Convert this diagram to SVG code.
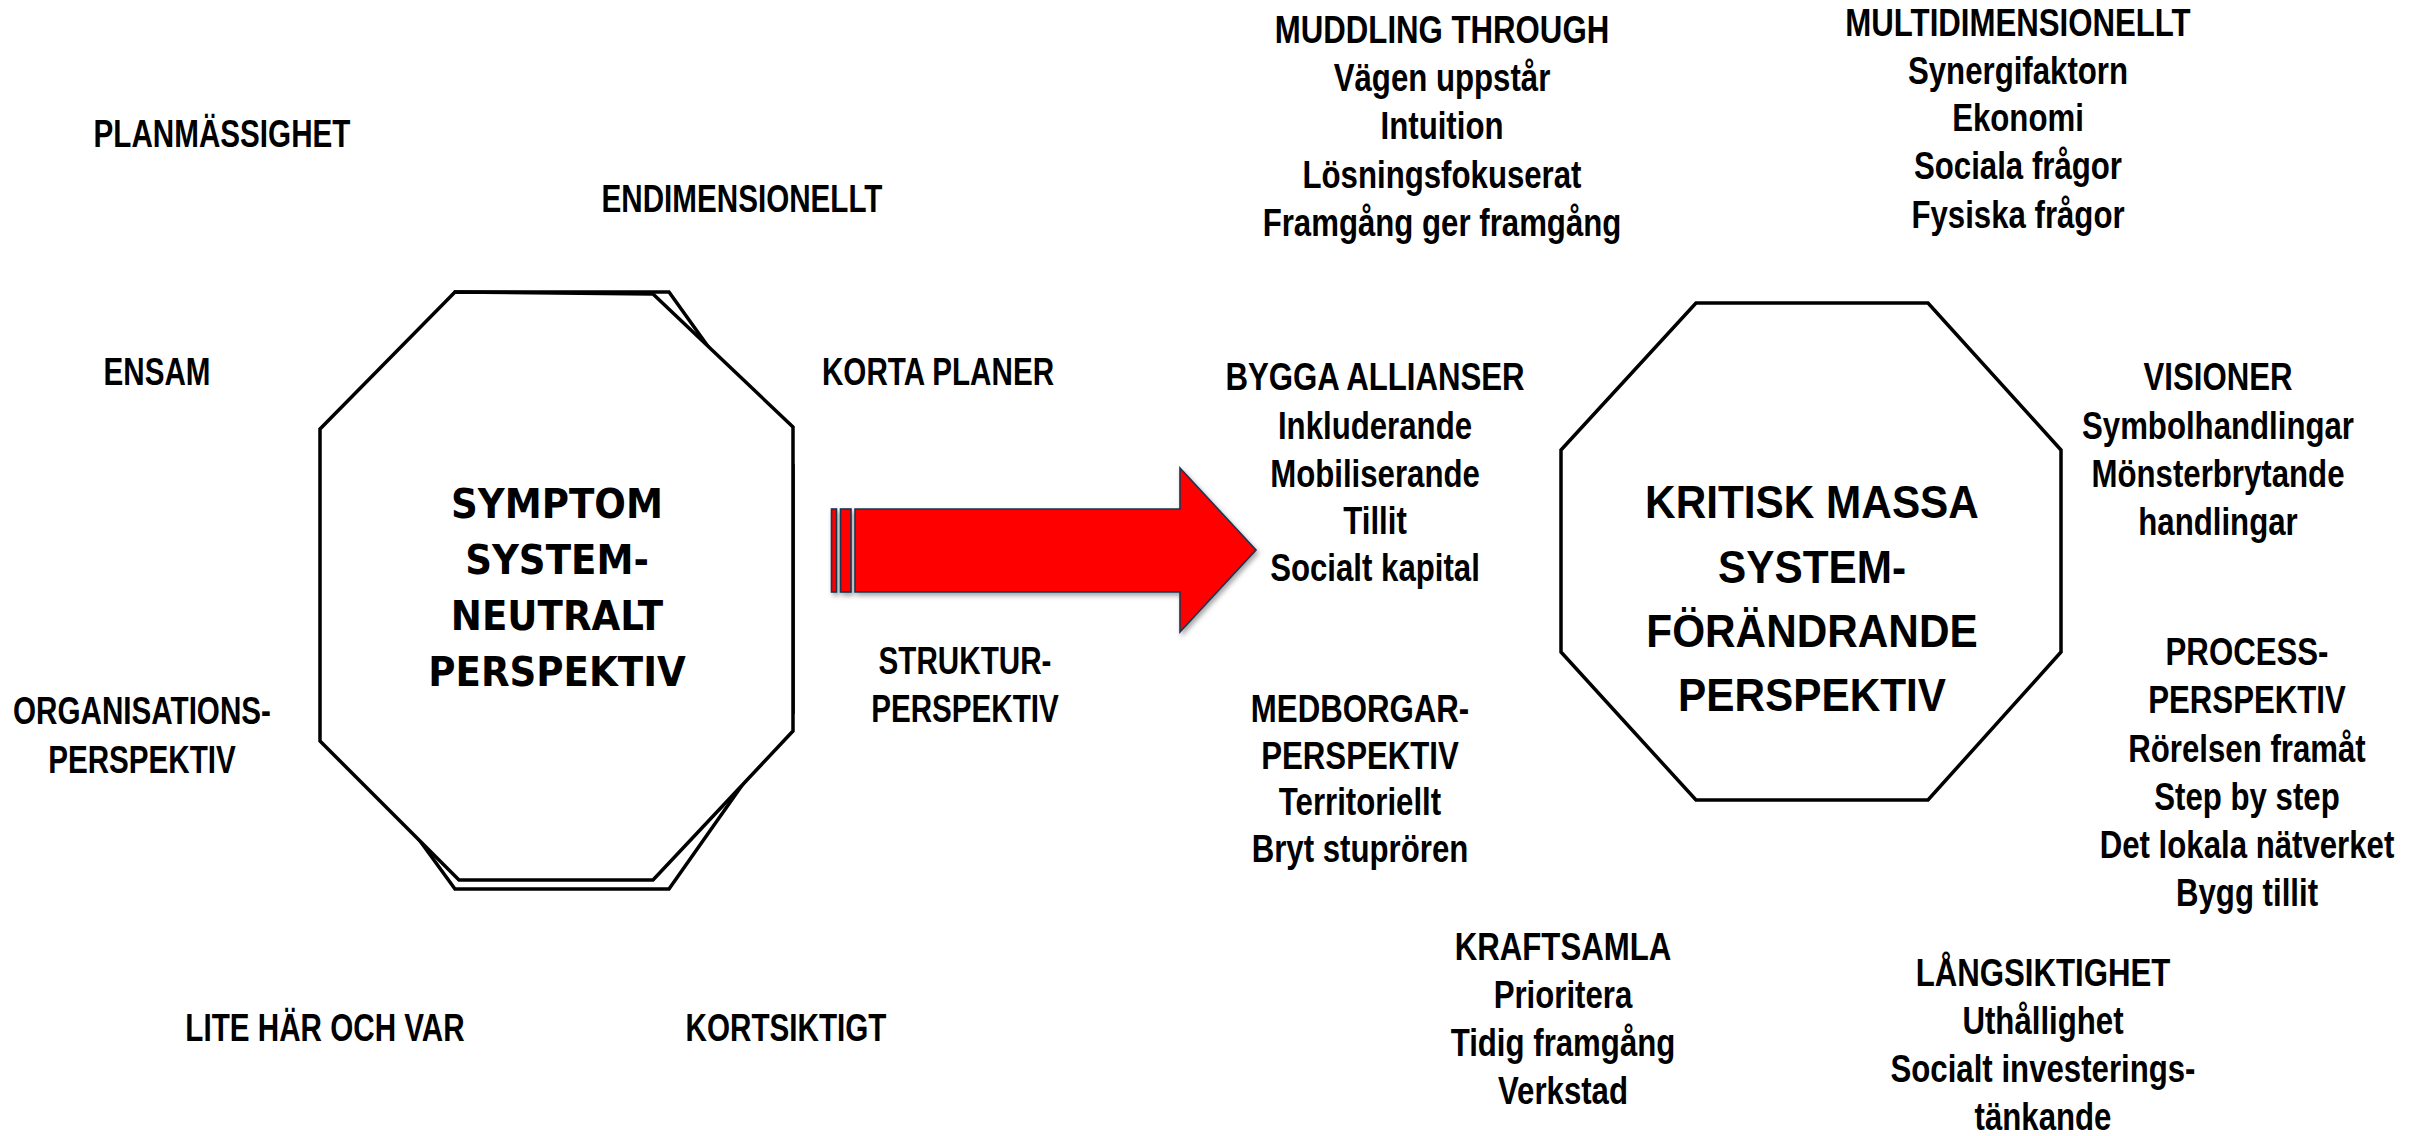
<svg xmlns="http://www.w3.org/2000/svg" width="2412" height="1136" viewBox="0 0 2412 1136">
<style>
.bg{fill:#fff}
.oct{fill:#fff;stroke:#000;stroke-width:3.5;stroke-linejoin:miter}
.t{font-family:"Liberation Sans",Arial,sans-serif;font-weight:bold;font-size:39px;fill:#000;text-anchor:middle}
.tc{font-family:"DejaVu Sans",Verdana,sans-serif;font-weight:bold;font-size:40px;fill:#000;text-anchor:middle}
.tk{font-family:"Liberation Sans",Arial,sans-serif;font-weight:bold;font-size:46px;fill:#000;text-anchor:middle}
.arr{fill:#ff0000;stroke:#1c3452;stroke-width:1.6;stroke-linejoin:miter}
</style>
<defs>
<filter id="sh" x="-10%" y="-10%" width="130%" height="140%">
<feDropShadow dx="2" dy="3" stdDeviation="2.5" flood-color="#000" flood-opacity="0.35"/>
</filter>
</defs>
<rect class="bg" x="0" y="0" width="2412" height="1136"/>

<g id="node-symptom">
<polygon class="oct" points="455,292 669,292 793,465 793,713 669,889 455,889 327,713 327,465"/>
<polygon class="oct" points="455,292 653,294 793,427 793,731 653,880 459,880 320,741 320,429"/>
<text class="tc" transform="translate(557 0) scale(0.93 1)"><tspan x="0" y="518">SYMPTOM</tspan><tspan x="0" y="574">SYSTEM-</tspan><tspan x="0" y="630">NEUTRALT</tspan><tspan x="0" y="686">PERSPEKTIV</tspan></text>
</g>

<g id="node-kritisk">
<polygon class="oct" points="1696,303 1928,303 2061,450 2061,652 1928,800 1696,800 1561,652 1561,450"/>
<text class="tk" transform="translate(1812 0) scale(0.92 1)"><tspan x="0" y="518">KRITISK MASSA</tspan><tspan x="0" y="583">SYSTEM-</tspan><tspan x="0" y="647">FÖRÄNDRANDE</tspan><tspan x="0" y="711">PERSPEKTIV</tspan></text>
</g>

<g id="connectors">
<g id="arrow" filter="url(#sh)">
<rect class="arr" x="831.5" y="509" width="5" height="83"/>
<rect class="arr" x="840.5" y="509" width="10.5" height="83"/>
<polygon class="arr" points="855,509 1180,509 1180,468 1256,550 1180,632 1180,592 855,592"/>
</g>
</g>

<g id="label-planmassighet"><text class="t" transform="translate(222 0) scale(0.76 1)"><tspan x="0" y="147">PLANMÄSSIGHET</tspan></text></g>
<g id="label-endimensionellt"><text class="t" transform="translate(742 0) scale(0.76 1)"><tspan x="0" y="212">ENDIMENSIONELLT</tspan></text></g>
<g id="label-ensam"><text class="t" transform="translate(157 0) scale(0.76 1)"><tspan x="0" y="385">ENSAM</tspan></text></g>
<g id="label-korta"><text class="t" transform="translate(938 0) scale(0.76 1)"><tspan x="0" y="385">KORTA PLANER</tspan></text></g>
<g id="label-organisations"><text class="t" transform="translate(142 0) scale(0.76 1)"><tspan x="0" y="724">ORGANISATIONS-</tspan><tspan x="0" y="773">PERSPEKTIV</tspan></text></g>
<g id="label-struktur"><text class="t" transform="translate(965 0) scale(0.76 1)"><tspan x="0" y="674">STRUKTUR-</tspan><tspan x="0" y="722">PERSPEKTIV</tspan></text></g>
<g id="label-lite"><text class="t" transform="translate(325 0) scale(0.76 1)"><tspan x="0" y="1041">LITE HÄR OCH VAR</tspan></text></g>
<g id="label-kortsiktigt"><text class="t" transform="translate(786 0) scale(0.76 1)"><tspan x="0" y="1041">KORTSIKTIGT</tspan></text></g>

<g id="label-muddling"><text class="t" transform="translate(1442 0) scale(0.8 1)"><tspan x="0" y="43">MUDDLING THROUGH</tspan><tspan x="0" y="91">Vägen uppstår</tspan><tspan x="0" y="139">Intuition</tspan><tspan x="0" y="188">Lösningsfokuserat</tspan><tspan x="0" y="236">Framgång ger framgång</tspan></text></g>
<g id="label-multi"><text class="t" transform="translate(2018 0) scale(0.8 1)"><tspan x="0" y="36">MULTIDIMENSIONELLT</tspan><tspan x="0" y="84">Synergifaktorn</tspan><tspan x="0" y="131">Ekonomi</tspan><tspan x="0" y="179">Sociala frågor</tspan><tspan x="0" y="228">Fysiska frågor</tspan></text></g>
<g id="label-bygga"><text class="t" transform="translate(1375 0) scale(0.8 1)"><tspan x="0" y="390">BYGGA ALLIANSER</tspan><tspan x="0" y="439">Inkluderande</tspan><tspan x="0" y="487">Mobiliserande</tspan><tspan x="0" y="534">Tillit</tspan><tspan x="0" y="581">Socialt kapital</tspan></text></g>
<g id="label-visioner"><text class="t" transform="translate(2218 0) scale(0.8 1)"><tspan x="0" y="390">VISIONER</tspan><tspan x="0" y="439">Symbolhandlingar</tspan><tspan x="0" y="487">Mönsterbrytande</tspan><tspan x="0" y="535">handlingar</tspan></text></g>
<g id="label-process"><text class="t" transform="translate(2247 0) scale(0.8 1)"><tspan x="0" y="665">PROCESS-</tspan><tspan x="0" y="713">PERSPEKTIV</tspan><tspan x="0" y="762">Rörelsen framåt</tspan><tspan x="0" y="810">Step by step</tspan><tspan x="0" y="858">Det lokala nätverket</tspan><tspan x="0" y="906">Bygg tillit</tspan></text></g>
<g id="label-medborgar"><text class="t" transform="translate(1360 0) scale(0.8 1)"><tspan x="0" y="722">MEDBORGAR-</tspan><tspan x="0" y="769">PERSPEKTIV</tspan><tspan x="0" y="815">Territoriellt</tspan><tspan x="0" y="862">Bryt stuprören</tspan></text></g>
<g id="label-kraftsamla"><text class="t" transform="translate(1563 0) scale(0.8 1)"><tspan x="0" y="960">KRAFTSAMLA</tspan><tspan x="0" y="1008">Prioritera</tspan><tspan x="0" y="1056">Tidig framgång</tspan><tspan x="0" y="1104">Verkstad</tspan></text></g>
<g id="label-langsiktighet"><text class="t" transform="translate(2043 0) scale(0.8 1)"><tspan x="0" y="986">LÅNGSIKTIGHET</tspan><tspan x="0" y="1034">Uthållighet</tspan><tspan x="0" y="1082">Socialt investerings-</tspan><tspan x="0" y="1130">tänkande</tspan></text></g>
</svg>
